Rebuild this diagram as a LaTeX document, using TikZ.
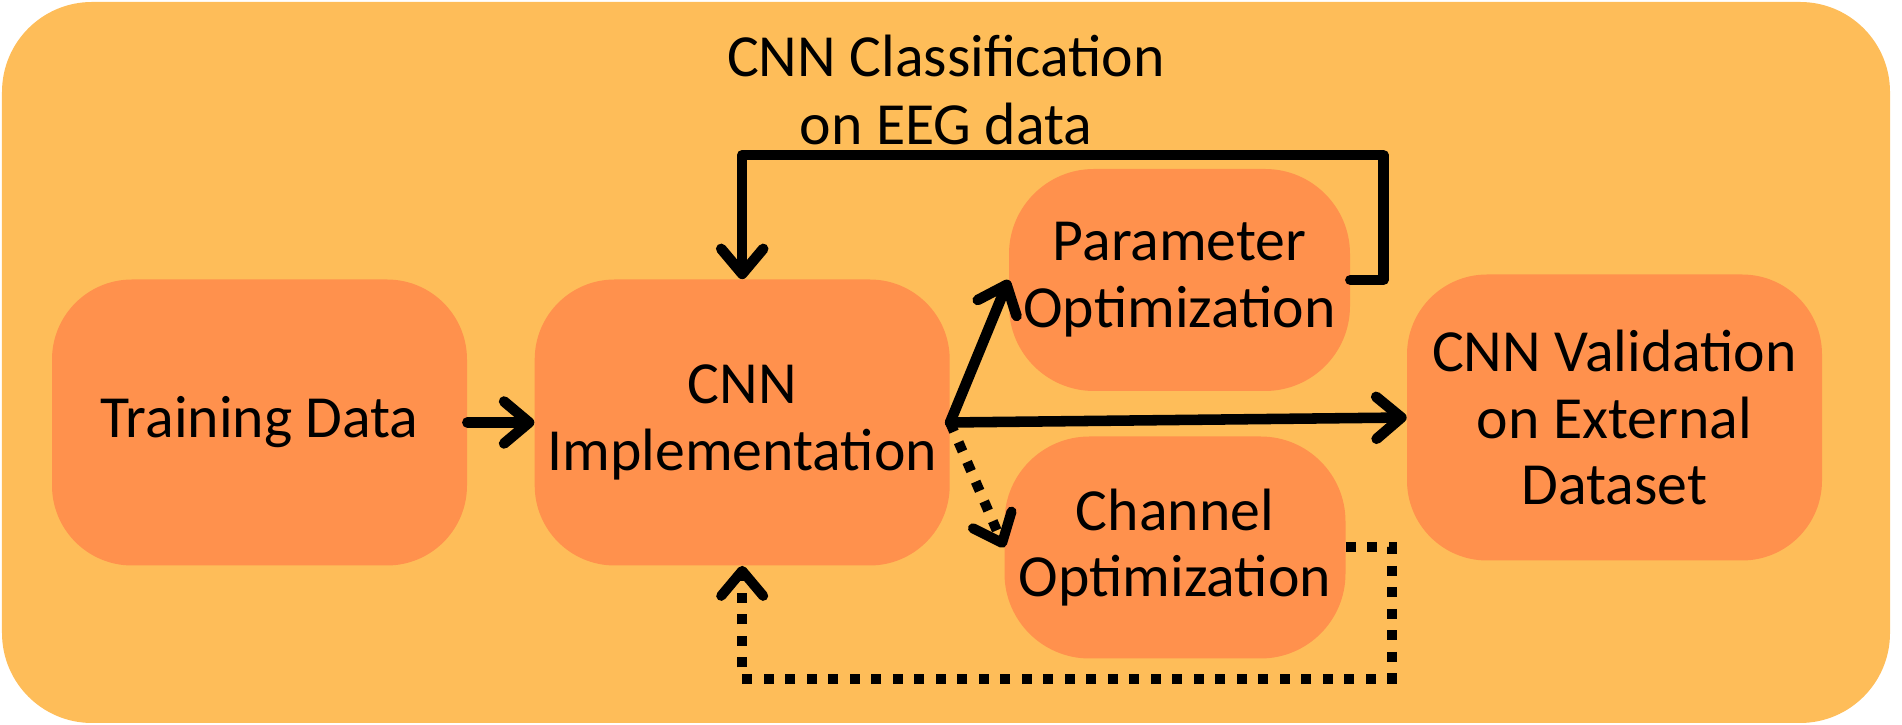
\documentclass[tikz,border=0pt]{standalone}
\usepackage{fontspec}
\setmainfont{Carlito}
\usetikzlibrary{arrows.meta, positioning}

\definecolor{bgorange}{HTML}{FEBD59}
\definecolor{boxorange}{HTML}{FF914D}

\begin{document}
\begin{tikzpicture}[
    node distance=1.34cm,
    box/.style={rectangle, rounded corners=1.6cm, minimum width=8.3cm, minimum height=5.72cm, align=center, fill=boxorange, inner sep=0pt, font=\fontsize{34}{38}\selectfont},
    optbox/.style={rectangle, rounded corners=1.7cm, minimum width=6.82cm, minimum height=4.44cm, align=center, fill=boxorange, inner sep=0pt, font=\fontsize{34}{38}\selectfont},
    titletext/.style={align=center, font=\fontsize{34}{39}\selectfont},
    arrow/.style={line width=6pt, line cap=round, line join=round, -{Straight Barb[round, length=0.5cm, width=0.84cm]}},
    dotarrow/.style={line width=5.7pt, dash pattern=on 0.2cm off 0.23cm, -{Straight Barb[round, length=0.5cm, width=0.84cm]}}
    ]

    % Background
    \useasboundingbox (0,0) rectangle (38.04,14.5);
    \fill[bgorange, rounded corners=1.8cm] (0.04,0.04) rectangle (37.8,14.46);

    % Boxes
    \node (train) [box] at (5.19,6.05) {Training Data};
    \node (cnn) [box, right=of train] {CNN\\Implementation};
    \node (param) [optbox] at (23.59,8.9) {Parameter\\Optimization};
    \node (chan) [optbox] at (23.5,3.55) {Channel\\Optimization};
    \node (valid) [box] at (32.29,6.15) {CNN Validation\\on External\\Dataset};
    \node (title) [titletext] at (18.92,12.7) {CNN Classification\\on EEG data};

    % Arrows
    \draw [arrow] (train) -- (cnn);
    \draw [arrow] (cnn.east) -- (param.west);
    \draw [arrow] (cnn.east) -- (valid.west);
    \draw [dotarrow] (cnn.east) -- (chan.west);

    % Feedback loops
    \draw [arrow] (param.east) -- ++(0.66,0) |- ([yshift=2.48cm]cnn.north) -- (cnn.north);
    \draw [dotarrow] (chan.east) -- ++(0.92,0) |- ([yshift=-2.26cm]cnn.south) -- (cnn.south);

\end{tikzpicture}
\end{document}
